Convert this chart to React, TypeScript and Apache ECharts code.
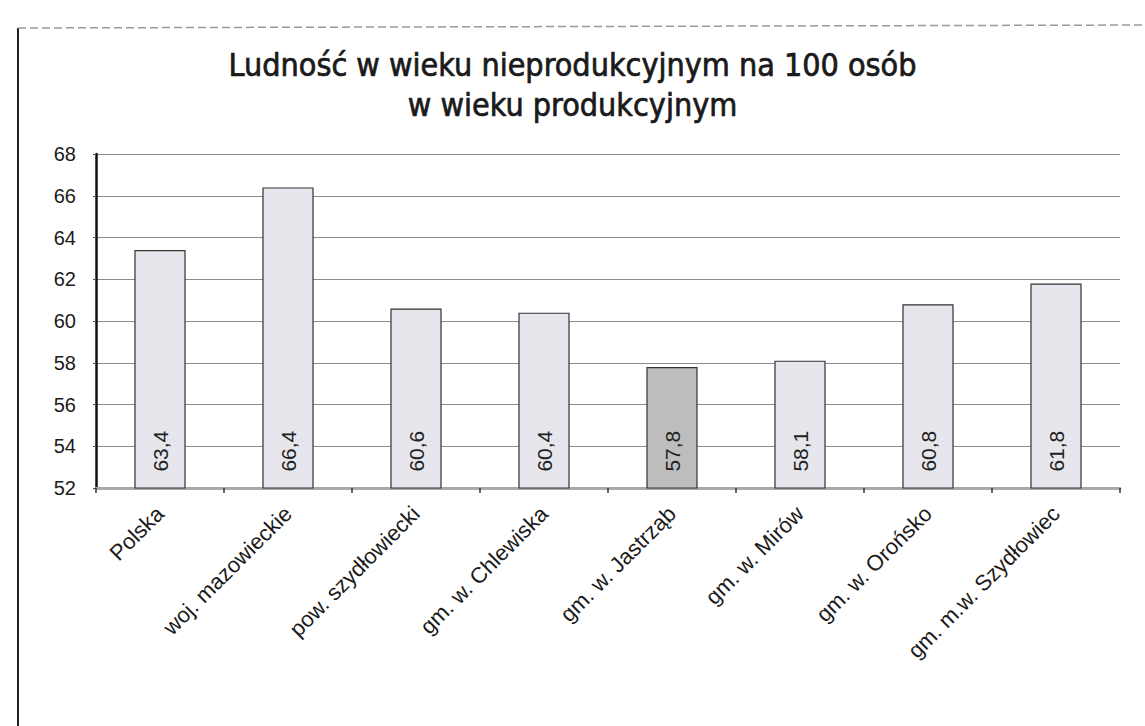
import React, { useEffect, useRef } from "react";
import * as echarts from "echarts";

const categories = [
  "Polska",
  "woj. mazowieckie",
  "pow. szydłowiecki",
  "gm. w. Chlewiska",
  "gm. w. Jastrząb",
  "gm. w. Mirów",
  "gm. w. Orońsko",
  "gm. m.w. Szydłowiec",
];
const values = [63.4, 66.4, 60.6, 60.4, 57.8, 58.1, 60.8, 61.8];
const highlightIndex = 4;
const titleLines = ["Ludność w wieku nieprodukcyjnym na 100 osób", "w wieku produkcyjnym"];
const yMin = 52;
const yMax = 68;
const yStep = 2;

const NARROW = '"Liberation Sans Narrow", "DejaVu Sans Condensed", "Open Sans", sans-serif';
const SANS = '"Liberation Sans", Arial, sans-serif';

export default function App() {
  const ref = useRef<HTMLDivElement>(null);
  useEffect(() => {
    if (!ref.current) return;
    const chart = echarts.init(ref.current, undefined, { renderer: "svg" });
    chart.setOption({
      animation: false,
      backgroundColor: "#ffffff",
      title: {
        text: titleLines.join("\n"),
        left: "center",
        top: 40,
        textStyle: {
          fontFamily: NARROW,
          fontSize: 32,
          fontWeight: "normal",
          color: "#1a1a1a",
          textBorderColor: "#1a1a1a",
          textBorderWidth: 0.7,
          lineHeight: 40,
        },
      },
      graphic: [
        { type: "line", shape: { x1: 18, y1: 28, x2: 18, y2: 726 }, style: { stroke: "#222", lineWidth: 2 } },
        { type: "line", shape: { x1: 18, y1: 28, x2: 1145, y2: 25 }, style: { stroke: "#999", lineWidth: 1.5, lineDash: [8, 4] } },
      ],
      grid: { left: 96, right: 25, top: 154, bottom: 238 },
      xAxis: {
        type: "category",
        data: categories,
        axisLine: { lineStyle: { color: "#a8a8a8", width: 3 } },
        axisTick: { show: true, lineStyle: { color: "#333", width: 1.5 }, length: 5 },
        axisLabel: {
          rotate: 45,
          interval: 0,
          fontFamily: SANS,
          fontSize: 22,
          color: "#1a1a1a",
          margin: 22,
        },
      },
      yAxis: {
        type: "value",
        min: yMin,
        max: yMax,
        interval: yStep,
        axisLine: { show: true, lineStyle: { color: "#111", width: 2.5 } },
        axisTick: { show: true, lineStyle: { color: "#555" }, length: 3 },
        splitLine: { lineStyle: { color: "#8a8a8a", width: 1 } },
        axisLabel: {
          fontFamily: SANS,
          fontSize: 20,
          color: "#1a1a1a",
          margin: 20,
        },
      },
      series: [
        {
          type: "bar",
          barWidth: "40%",
          data: values.map((v, i) => ({
            value: v,
            itemStyle: {
              color: i === highlightIndex ? "#bdbdbd" : "#e6e6ec",
              borderColor: "#333",
              borderWidth: 1.2,
            },
          })),
          label: {
            show: true,
            position: "insideBottom",
            rotate: 90,
            align: "left",
            verticalAlign: "middle",
            distance: 17,
            fontFamily: SANS,
            fontSize: 21,
            color: "#222",
            formatter: (p: any) => String(p.value).replace(".", ","),
          },
        },
      ],
    });
    return () => chart.dispose();
  }, []);
  return (
    <div
      ref={ref}
      style={{ position: "fixed", left: 0, top: 0, width: 1145, height: 726 }}
    />
  );
}
